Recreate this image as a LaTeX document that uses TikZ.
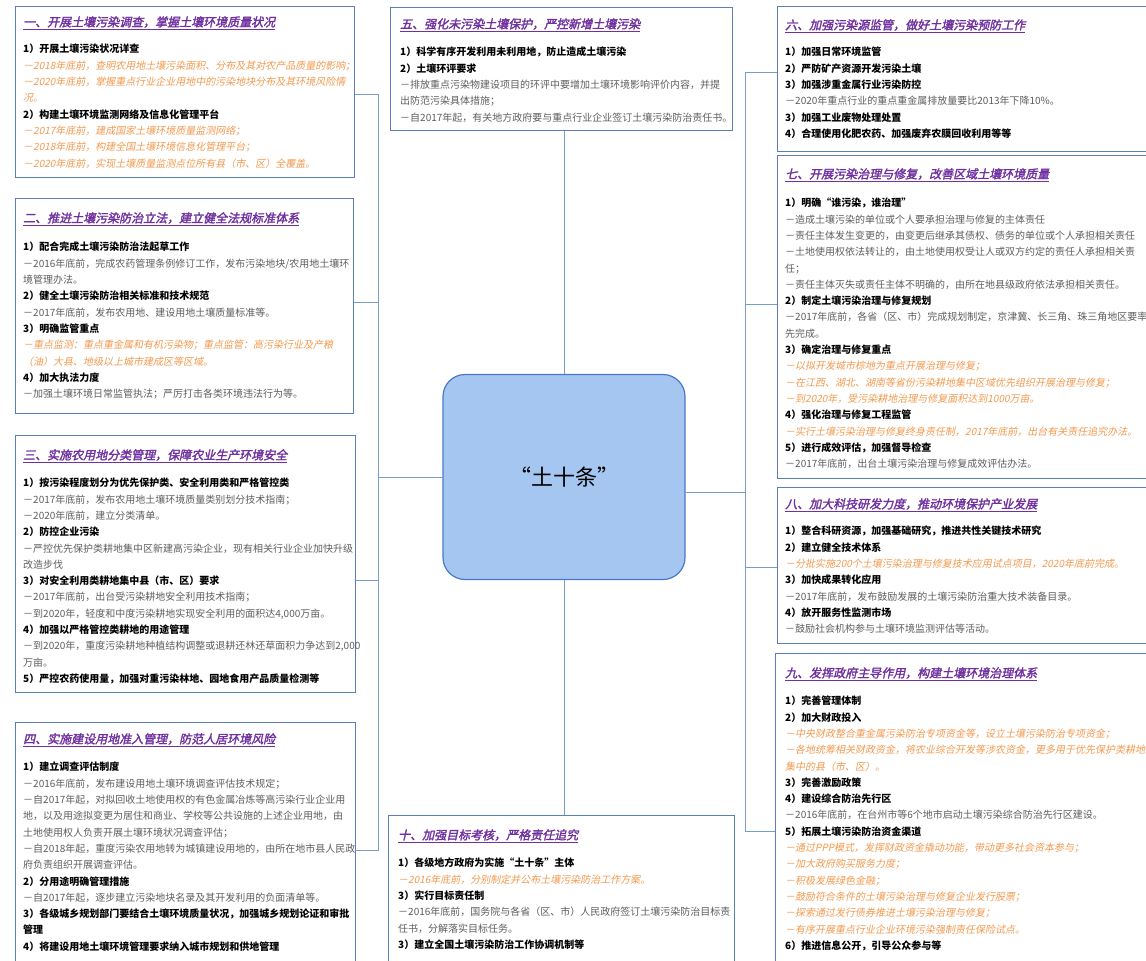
\documentclass[tikz,border=0pt]{standalone}
\usepackage{fontspec}
\setmainfont{Noto Sans CJK SC}[AutoFakeSlant=0.2]
\newfontfamily\ttlfont{Noto Sans CJK SC}[FakeSlant=0.22, FakeBold=2]
\definecolor{boxblue}{HTML}{5B7DB8}
\definecolor{connblue}{HTML}{7A9CCB}
\definecolor{ttlpurple}{HTML}{7030A0}
\definecolor{txtgray}{HTML}{5E5E5E}
\definecolor{txtorange}{HTML}{F29A4F}
\definecolor{centerfill}{HTML}{A6C6F2}
\definecolor{centerborder}{HTML}{4A78C8}
\newcommand\sHd[1]{{\bfseries\color{black}#1}}
\newcommand\sGy[1]{{\color{txtgray}#1}}
\newcommand\sOg[1]{{\color{txtorange}\itshape #1}}
\newcommand\sTt[1]{\underline{#1}}
\begin{document}
\begin{tikzpicture}[x=1pt,y=-1pt,
  box/.style={draw=boxblue, line width=1.1pt, fill=white, anchor=north west, inner sep=0pt},
  ttl/.style={anchor=west, inner sep=0pt, font=\fontsize{12}{14}\ttlfont\selectfont, text=ttlpurple},
  body/.style={anchor=north west, inner sep=0pt, align=left, font=\fontsize{10}{16.3}\selectfont},
  conn/.style={draw=connblue, line width=0.9pt}]
\useasboundingbox (0,0) rectangle (1146,961);
\clip (0,0) rectangle (1146,961);

% boxes
\node[box, minimum width=339pt, minimum height=171pt] (b1) at (15,6) {};
\node[box, minimum width=338pt, minimum height=215pt] (b2) at (15,198) {};
\node[box, minimum width=340pt, minimum height=257pt] (b3) at (15,435) {};
\node[box, minimum width=340pt, minimum height=260pt] (b4) at (15,722) {};
\node[box, minimum width=342pt, minimum height=123pt] (b5) at (390,7) {};
\node[box, minimum width=346pt, minimum height=160pt] (b10) at (388,815) {};
\node[box, minimum width=380pt, minimum height=145pt] (b6) at (777,6) {};
\node[box, minimum width=380pt, minimum height=323pt] (b7) at (777,155) {};
\node[box, minimum width=380pt, minimum height=156pt] (b8) at (777,487) {};
\node[box, minimum width=380pt, minimum height=320pt] (b9) at (775,653) {};

% center
\node[draw=centerborder, fill=centerfill, rounded corners=22pt, line width=1.2pt,
  minimum width=242pt, minimum height=205pt, font=\fontsize{22}{26}\selectfont] (c) at (564,477) {\raisebox{-10pt}{“土十条”}};

% connectors
\coordinate (tl) at (378,477);
\coordinate (tr) at (745,492);
\draw[conn] (c.west) -- (tl);
\draw[conn] (tl) |- (b1.east |- 0,94);
\draw[conn] (tl) |- (b2.east |- 0,302);
\draw[conn] (tl) |- (b3.east |- 0,580);
\draw[conn] (tl) |- (b4.east |- 0,850);
\draw[conn] (c.east |- tr) -- (tr);
\draw[conn] (tr) |- (b6.west |- 0,72);
\draw[conn] (tr) |- (b7.west |- 0,304);
\draw[conn] (tr) |- (b8.west |- 0,567);
\draw[conn] (tr) |- (b9.west |- 0,831);
\draw[conn] (c.north) -- (c.north |- b5.south);
\draw[conn] (c.south) -- (c.south |- b10.north);

% titles
\node[ttl] (t1) at (23,23) {\sTt{一、开展土壤污染调查，掌握土壤环境质量状况}};
\node[ttl] (t2) at (23,219) {\sTt{二、推进土壤污染防治立法，建立健全法规标准体系}};
\node[ttl] (t3) at (23,456) {\sTt{三、实施农用地分类管理，保障农业生产环境安全}};
\node[ttl] (t4) at (23,740) {\sTt{四、实施建设用地准入管理，防范人居环境风险}};
\node[ttl] (t5) at (400,25) {\sTt{五、强化未污染土壤保护，严控新增土壤污染}};
\node[ttl] (t6) at (785,26) {\sTt{六、加强污染源监管，做好土壤污染预防工作}};
\node[ttl] (t7) at (785,175) {\sTt{七、开展污染治理与修复，改善区域土壤环境质量}};
\node[ttl] (t8) at (785,505) {\sTt{八、加大科技研发力度，推动环境保护产业发展}};
\node[ttl] (t9) at (785,674) {\sTt{九、发挥政府主导作用，构建土壤环境治理体系}};
\node[ttl] (t10) at (398,836) {\sTt{十、加强目标考核，严格责任追究}};

% bodies
\node[body] (x1) at (23,44) {%
\sHd{1）开展土壤污染状况详查}\\
\sOg{－2018年底前，查明农用地土壤污染面积、分布及其对农产品质量的影响；}\\
\sOg{－2020年底前，掌握重点行业企业用地中的污染地块分布及其环境风险情}\\
\sOg{况。}\\
\sHd{2）构建土壤环境监测网络及信息化管理平台}\\
\sOg{－2017年底前，建成国家土壤环境质量监测网络；}\\
\sOg{－2018年底前，构建全国土壤环境信息化管理平台；}\\
\sOg{－2020年底前，实现土壤质量监测点位所有县（市、区）全覆盖。}};

\node[body] (x2) at (23,242) {%
\sHd{1）配合完成土壤污染防治法起草工作}\\
\sGy{－2016年底前，完成农药管理条例修订工作，发布污染地块/农用地土壤环}\\
\sGy{境管理办法。}\\
\sHd{2）健全土壤污染防治相关标准和技术规范}\\
\sGy{－2017年底前，发布农用地、建设用地土壤质量标准等。}\\
\sHd{3）明确监管重点}\\
\sOg{－重点监测：重点重金属和有机污染物；重点监管：高污染行业及产粮}\\
\sOg{（油）大县、地级以上城市建成区等区域。}\\
\sHd{4）加大执法力度}\\
\sGy{－加强土壤环境日常监管执法；严厉打击各类环境违法行为等。}};

\node[body] (x3) at (23,478) {%
\sHd{1）按污染程度划分为优先保护类、安全利用类和严格管控类}\\
\sGy{－2017年底前，发布农用地土壤环境质量类别划分技术指南；}\\
\sGy{－2020年底前，建立分类清单。}\\
\sHd{2）防控企业污染}\\
\sGy{－严控优先保护类耕地集中区新建高污染企业，现有相关行业企业加快升级}\\
\sGy{改造步伐}\\
\sHd{3）对安全利用类耕地集中县（市、区）要求}\\
\sGy{－2017年底前，出台受污染耕地安全利用技术指南；}\\
\sGy{－到2020年，轻度和中度污染耕地实现安全利用的面积达4,000万亩。}\\
\sHd{4）加强以严格管控类耕地的用途管理}\\
\sGy{－到2020年，重度污染耕地种植结构调整或退耕还林还草面积力争达到2,000}\\
\sGy{万亩。}\\
\sHd{5）严控农药使用量，加强对重污染林地、园地食用产品质量检测等}};

\node[body] (x4) at (23,762) {%
\sHd{1）建立调查评估制度}\\
\sGy{－2016年底前，发布建设用地土壤环境调查评估技术规定；}\\
\sGy{－自2017年起，对拟回收土地使用权的有色金属冶炼等高污染行业企业用}\\
\sGy{地，以及用途拟变更为居住和商业、学校等公共设施的上述企业用地，由}\\
\sGy{土地使用权人负责开展土壤环境状况调查评估；}\\
\sGy{－自2018年起，重度污染农用地转为城镇建设用地的，由所在地市县人民政}\\
\sGy{府负责组织开展调查评估。}\\
\sHd{2）分用途明确管理措施}\\
\sGy{－自2017年起，逐步建立污染地块名录及其开发利用的负面清单等。}\\
\sHd{3）各级城乡规划部门要结合土壤环境质量状况，加强城乡规划论证和审批}\\
\sHd{管理}\\
\sHd{4）将建设用地土壤环境管理要求纳入城市规划和供地管理}};

\node[body] (x5) at (400,47) {%
\sHd{1）科学有序开发利用未利用地，防止造成土壤污染}\\
\sHd{2）土壤环评要求}\\
\sGy{－排放重点污染物建设项目的环评中要增加土壤环境影响评价内容，并提}\\
\sGy{出防范污染具体措施；}\\
\sGy{－自2017年起，有关地方政府要与重点行业企业签订土壤污染防治责任书。}};

\node[body] (x6) at (785,47) {%
\sHd{1）加强日常环境监管}\\
\sHd{2）严防矿产资源开发污染土壤}\\
\sHd{3）加强涉重金属行业污染防控}\\
\sGy{－2020年重点行业的重点重金属排放量要比2013年下降10\%。}\\
\sHd{3）加强工业废物处理处置}\\
\sHd{4）合理使用化肥农药、加强废弃农膜回收利用等等}};

\node[body] (x7) at (785,198) {%
\sHd{1）明确“谁污染，谁治理”}\\
\sGy{－造成土壤污染的单位或个人要承担治理与修复的主体责任}\\
\sGy{－责任主体发生变更的，由变更后继承其债权、债务的单位或个人承担相关责任}\\
\sGy{－土地使用权依法转让的，由土地使用权受让人或双方约定的责任人承担相关责}\\
\sGy{任；}\\
\sGy{－责任主体灭失或责任主体不明确的，由所在地县级政府依法承担相关责任。}\\
\sHd{2）制定土壤污染治理与修复规划}\\
\sGy{－2017年底前，各省（区、市）完成规划制定，京津冀、长三角、珠三角地区要率}\\
\sGy{先完成。}\\
\sHd{3）确定治理与修复重点}\\
\sOg{－以拟开发城市棕地为重点开展治理与修复；}\\
\sOg{－在江西、湖北、湖南等省份污染耕地集中区域优先组织开展治理与修复；}\\
\sOg{－到2020年，受污染耕地治理与修复面积达到1000万亩。}\\
\sHd{4）强化治理与修复工程监管}\\
\sOg{－实行土壤污染治理与修复终身责任制，2017年底前，出台有关责任追究办法。}\\
\sHd{5）进行成效评估，加强督导检查}\\
\sGy{－2017年底前，出台土壤污染治理与修复成效评估办法。}};

\node[body] (x8) at (785,526) {%
\sHd{1）整合科研资源，加强基础研究，推进共性关键技术研究}\\
\sHd{2）建立健全技术体系}\\
\sOg{－分批实施200个土壤污染治理与修复技术应用试点项目，2020年底前完成。}\\
\sHd{3）加快成果转化应用}\\
\sGy{－2017年底前，发布鼓励发展的土壤污染防治重大技术装备目录。}\\
\sHd{4）放开服务性监测市场}\\
\sGy{－鼓励社会机构参与土壤环境监测评估等活动。}};

\node[body] (x9) at (785,696) {%
\sHd{1）完善管理体制}\\
\sHd{2）加大财政投入}\\
\sOg{－中央财政整合重金属污染防治专项资金等，设立土壤污染防治专项资金；}\\
\sOg{－各地统筹相关财政资金，将农业综合开发等涉农资金，更多用于优先保护类耕地}\\
\sOg{集中的县（市、区）。}\\
\sHd{3）完善激励政策}\\
\sHd{4）建设综合防治先行区}\\
\sGy{－2016年底前，在台州市等6个地市启动土壤污染综合防治先行区建设。}\\
\sHd{5）拓展土壤污染防治资金渠道}\\
\sOg{－通过PPP模式，发挥财政资金撬动功能，带动更多社会资本参与；}\\
\sOg{－加大政府购买服务力度；}\\
\sOg{－积极发展绿色金融；}\\
\sOg{－鼓励符合条件的土壤污染治理与修复企业发行股票；}\\
\sOg{－探索通过发行债券推进土壤污染治理与修复；}\\
\sOg{－有序开展重点行业企业环境污染强制责任保险试点。}\\
\sHd{6）推进信息公开，引导公众参与等}};

\node[body] (x10) at (398,858) {%
\sHd{1）各级地方政府为实施“土十条”主体}\\
\sOg{－2016年底前，分别制定并公布土壤污染防治工作方案。}\\
\sHd{3）实行目标责任制}\\
\sGy{－2016年底前，国务院与各省（区、市）人民政府签订土壤污染防治目标责}\\
\sGy{任书，分解落实目标任务。}\\
\sHd{3）建立全国土壤污染防治工作协调机制等}};
\end{tikzpicture}
\end{document}
